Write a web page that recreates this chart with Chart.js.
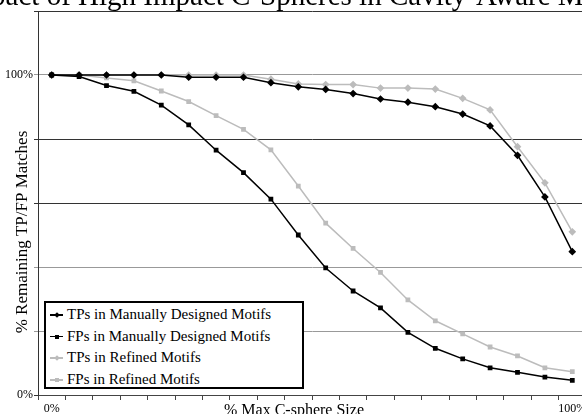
<!DOCTYPE html>
<html>
<head>
<meta charset="utf-8">
<script src="https://cdn.jsdelivr.net/npm/chart.js@4.4.1/dist/chart.umd.min.js"></script>
<style>
  html, body { margin: 0; padding: 0; background: #fff; }
  #wrap { position: relative; width: 582px; height: 414px; overflow: hidden; }
  #chart { position: absolute; left: -59px; top: -16px; }
  #legend {
    position: absolute; left: 44px; top: 301px; width: 256px; height: 83px;
    border: 2px solid #000; background: #fff; padding-top: 1px;
    font: 15px "Liberation Serif", serif; color: #000;
  }
  .item { height: 21.7px; line-height: 21.7px; white-space: nowrap; padding-left: 4px; }
  .swatch { display: inline-block; position: relative; width: 13px; height: 10px; margin-right: 4px; vertical-align: -1px; }
  .swatch .ln { position: absolute; left: 0; right: 0; top: 4px; height: 1.5px; }
  .swatch .mk { position: absolute; left: 4.5px; top: 3px; width: 4px; height: 4px; }
  .swatch .mk.rot { transform: rotate(45deg); }
</style>
</head>
<body>
<div id="wrap">
  <canvas id="chart" width="720" height="436"></canvas>
  <div id="legend"></div>
</div>
<script>
const chartTitle = 'Impact of High Impact C-Spheres in Cavity-Aware Motifs';
const xTitle = '% Max C-sphere Size';
const yTitle = '% Remaining TP/FP Matches';

const categories = ['0%', '5%', '11%', '16%', '21%', '26%', '32%', '37%', '42%', '47%',
                    '53%', '58%', '63%', '68%', '74%', '79%', '84%', '89%', '95%', '100%'];

const tpManual  = [100, 100, 100, 100, 100, 99.3, 99.3, 99.3, 97.6, 96.3, 95.5, 94.2, 92.5, 91.5, 90.1, 87.8, 84.1, 74.9, 61.9, 44.8];
const fpManual  = [100, 99.5, 96.7, 94.9, 90.6, 84.4, 76.5, 69.5, 61.2, 50.0, 39.7, 32.5, 27.2, 19.6, 14.6, 11.3, 8.5, 7.1, 5.6, 4.6];
const tpRefined = [100, 100, 100, 100, 100, 100, 100, 100, 98.7, 97.2, 97.0, 97.0, 95.9, 95.9, 95.6, 92.7, 89.1, 77.6, 66.3, 51.0];
const fpRefined = [100, 100, 99.1, 98.2, 95.0, 91.7, 87.3, 83.0, 76.6, 65.3, 53.7, 45.8, 38.3, 29.7, 23.2, 19.1, 15.0, 12.2, 8.5, 7.3];

const yLabelled = [0, 100];

const serif = '"Liberation Serif", "Times New Roman", serif';
const BLACK = '#000';
const GRAY = '#bcbcbc';
// the original is cropped on every side, so the canvas is bigger than the page
const SHIFT_X = 59;
const SHIFT_Y = 16;

function series(label, values, color, marker) {
    return {
        label: label,
        data: values,
        borderColor: color,
        backgroundColor: color,
        pointBackgroundColor: color,
        pointBorderColor: color,
        borderWidth: 1.5,
        pointStyle: marker,
        pointRadius: marker === 'rectRot' ? 2.8 : 2.3,
        tension: 0
    };
}

// titles sit off-centre (and run off the edge) in the original, so draw them by hand
const titles = {
    id: 'titles',
    afterDraw(chart) {
        const c = chart.ctx;
        c.save();
        c.fillStyle = '#000';
        c.font = '29px ' + serif;
        c.textAlign = 'center';
        c.textBaseline = 'alphabetic';
        c.fillText(chartTitle, 297 + SHIFT_X, 5 + SHIFT_Y);

        c.font = '16px ' + serif;
        c.fillText(xTitle, 294 + SHIFT_X, 415 + SHIFT_Y);

        c.font = '17px ' + serif;
        c.textBaseline = 'middle';
        c.translate(23 + SHIFT_X, 232 + SHIFT_Y);
        c.rotate(-Math.PI / 2);
        c.fillText(yTitle, 0, 0);
        c.restore();
    }
};

const gridColors = { 0: '#333', 20: '#999', 40: '#999', 60: '#333', 80: '#333', 100: '#999', 120: '#333' };

const chart = new Chart(document.getElementById('chart').getContext('2d'), {
    type: 'line',
    data: {
        labels: categories,
        datasets: [
            series('TPs in Manually Designed Motifs', tpManual, BLACK, 'rectRot'),
            series('FPs in Manually Designed Motifs', fpManual, BLACK, 'rect'),
            series('TPs in Refined Motifs', tpRefined, GRAY, 'rectRot'),
            series('FPs in Refined Motifs', fpRefined, GRAY, 'rect')
        ]
    },
    options: {
        responsive: false,
        animation: false,
        layout: { padding: { left: 0, right: 75, top: 11 + SHIFT_Y, bottom: 0 } },
        plugins: {
            legend: { display: false },
            tooltip: { enabled: false },
            title: { display: false }
        },
        scales: {
            x: {
                offset: true,
                grid: { offset: true, drawOnChartArea: false, drawTicks: true, tickLength: 5, color: '#444' },
                border: { color: '#444', width: 1 },
                ticks: {
                    autoSkip: false,
                    maxRotation: 0,
                    padding: 2,
                    color: '#000',
                    font: { family: serif, size: 12 },
                    callback: (v, i) => (i === 0 || i === categories.length - 1) ? categories[i] : ''
                },
                afterFit: (s) => { s.height = 25; }
            },
            y: {
                min: 0,
                max: 120,
                ticks: {
                    stepSize: 20,
                    padding: 1,
                    color: '#000',
                    font: { family: serif, size: 12 },
                    callback: (v) => yLabelled.includes(v) ? v + '%' : ''
                },
                grid: {
                    tickLength: 4,
                    color: (ctx) => gridColors[ctx.tick ? ctx.tick.value : 0] || '#333'
                },
                border: { color: '#333', width: 1 },
                afterFit: (s) => { s.width = 38 + SHIFT_X; }
            }
        }
    },
    plugins: [titles]
});

// legend box drawn inside the plot, like the original
const legend = document.getElementById('legend');
chart.data.datasets.forEach((ds) => {
    const row = document.createElement('div');
    row.className = 'item';
    const sw = document.createElement('span');
    sw.className = 'swatch';
    const ln = document.createElement('span');
    ln.className = 'ln';
    ln.style.background = ds.borderColor;
    const mk = document.createElement('span');
    mk.className = 'mk' + (ds.pointStyle === 'rectRot' ? ' rot' : '');
    mk.style.background = ds.borderColor;
    sw.appendChild(ln);
    sw.appendChild(mk);
    row.appendChild(sw);
    row.appendChild(document.createTextNode(ds.label));
    legend.appendChild(row);
});
</script>
</body>
</html>
